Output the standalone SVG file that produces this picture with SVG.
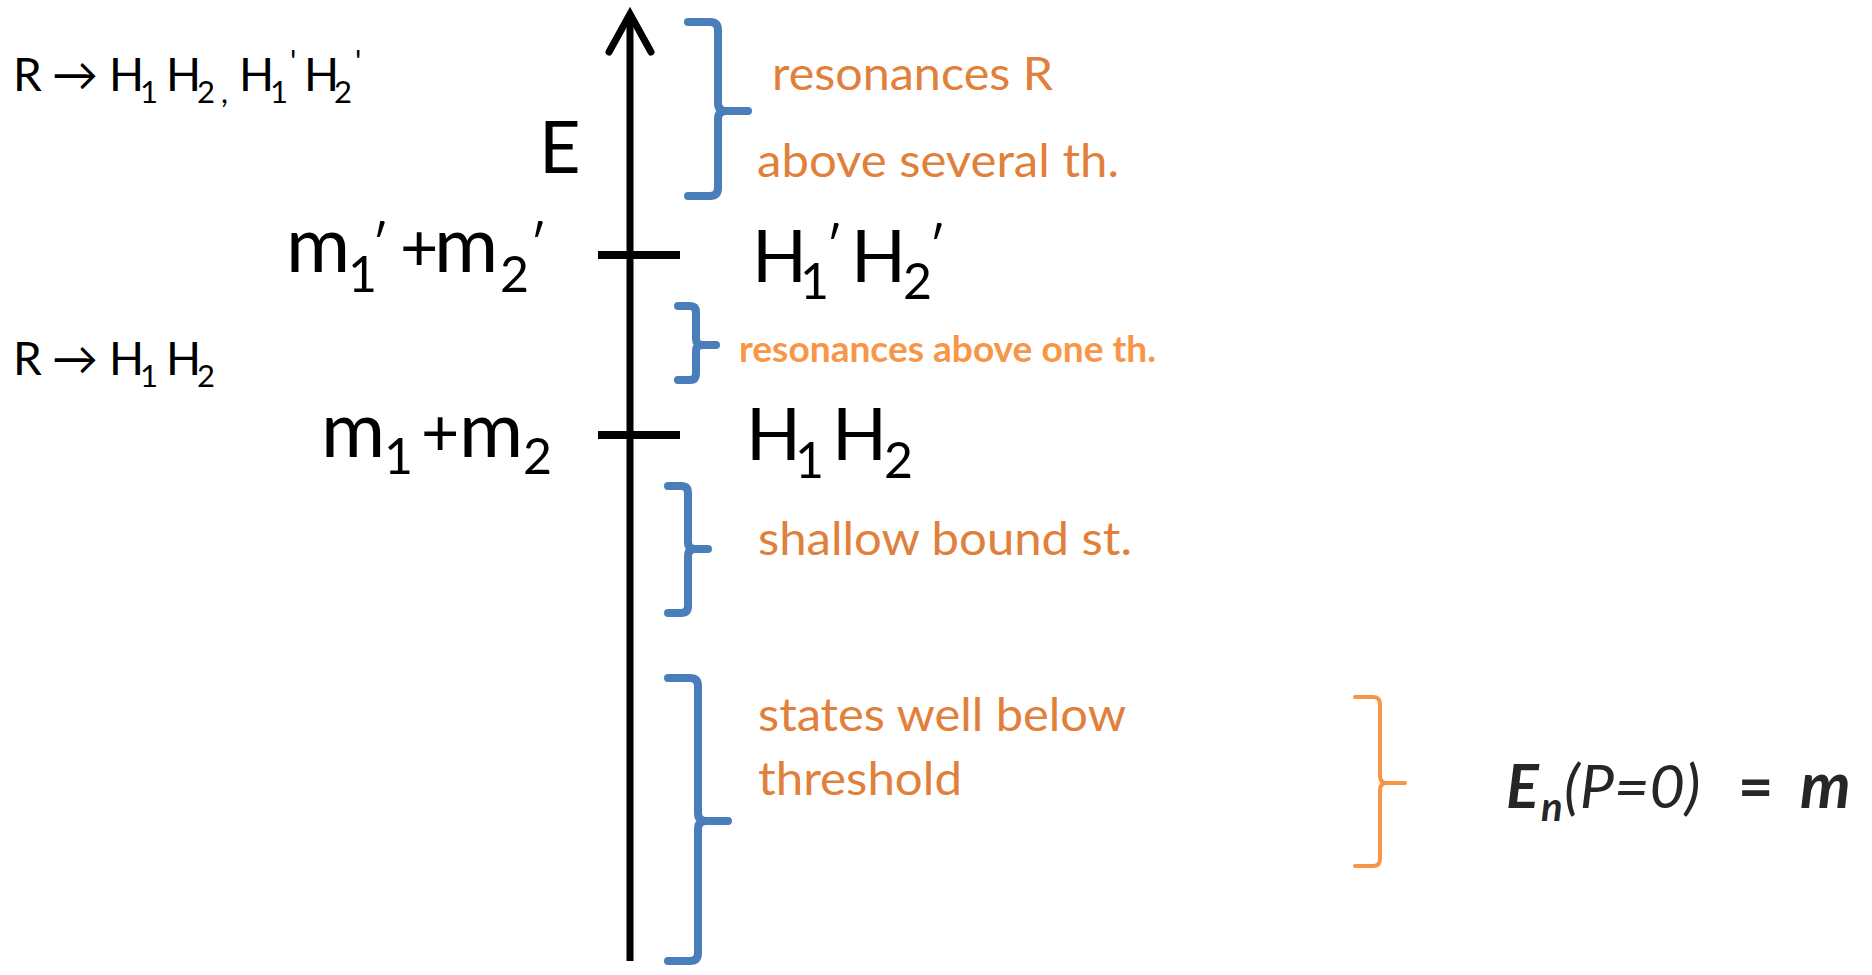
<svg xmlns="http://www.w3.org/2000/svg" width="1872" height="975" viewBox="0 0 1872 975">
<style>
.k{font-family:Lato,"Open Sans","Liberation Sans",sans-serif;fill:#000}
.f{font-size:46px}
.s{font-size:31px}
.big{font-size:72px}
.mm{font-size:78px}
.pl{font-size:66px}
.bs{font-size:50px}
.o{font-family:Lato,"Open Sans","Liberation Sans",sans-serif;fill:#E0803A;font-size:46px}
.ob{font-family:Lato,"Open Sans","Liberation Sans",sans-serif;fill:#F79646;font-weight:bold;font-size:36px}
.eq{font-family:Lato,"Open Sans","Liberation Sans",sans-serif;fill:#262626;font-size:61px;font-style:italic}
.b{font-weight:bold}
.br{fill:none;stroke:#4A7EBB;stroke-width:8;stroke-linecap:round;stroke-linejoin:round}
.bo{fill:none;stroke:#F79646;stroke-width:4;stroke-linecap:round;stroke-linejoin:round}
.ax{fill:none;stroke:#000;stroke-width:7}
.tk{fill:none;stroke:#000;stroke-width:8}
</style>
<g id="connectors">
<g id="energy-axis">
<line class="ax" x1="630" y1="961" x2="630" y2="14"/>
<polyline class="ax" points="609,52 630,14 651,52" stroke-width="8" stroke-linecap="round" stroke-linejoin="miter"/>
</g>
<line id="tick-upper" class="tk" x1="598" y1="255" x2="680" y2="255"/>
<line id="tick-lower" class="tk" x1="598" y1="435" x2="680" y2="435"/>
<path id="brace-1" class="br" d="M688,22 H710 Q718,22 718,30 V103 Q718,111 726,111 H748 M726,111 Q718,111 718,119 V188 Q718,196 710,196 H688"/>
<path id="brace-2" class="br" d="M678,306 H690 Q696,306 696,312 V339 Q696,345 702,345 H716 M702,345 Q696,345 696,351 V374 Q696,380 690,380 H678"/>
<path id="brace-3" class="br" d="M668,486 H681 Q688,486 688,493 V542 Q688,549 695,549 H708 M695,549 Q688,549 688,556 V606 Q688,613 681,613 H668"/>
<path id="brace-4" class="br" d="M668,678 H690 Q698,678 698,686 V813 Q698,821 706,821 H728 M706,821 Q698,821 698,829 V953 Q698,961 690,961 H668"/>
<path id="brace-orange" class="bo" d="M1355,697 H1373 Q1380,697 1380,704 V776 Q1380,783 1387,783 H1405 M1387,783 Q1380,783 1380,790 V859 Q1380,866 1373,866 H1355"/>
</g>
<g id="decay-two">
<text class="k f"><tspan x="13" y="91">R</tspan><tspan x="52" y="91">→</tspan><tspan x="109" y="91">H</tspan><tspan class="s" x="140" y="103">1</tspan><tspan x="166" y="91">H</tspan><tspan class="s" x="197" y="103">2</tspan><tspan class="s" x="221" y="103">,</tspan><tspan x="239" y="91">H</tspan><tspan class="s" x="270" y="103">1</tspan><tspan class="s" x="290" y="72">'</tspan><tspan x="304" y="91">H</tspan><tspan class="s" x="334" y="103">2</tspan><tspan class="s" x="355" y="72">'</tspan></text>
</g>
<g id="decay-one">
<text class="k f"><tspan x="13" y="375">R</tspan><tspan x="52" y="375">→</tspan><tspan x="109" y="375">H</tspan><tspan class="s" x="140" y="387">1</tspan><tspan x="166" y="375">H</tspan><tspan class="s" x="197" y="387">2</tspan></text>
</g>
<g id="axis-label">
<text class="k big" x="539" y="173">E</text>
</g>
<g id="threshold-upper">
<text class="k mm"><tspan x="286" y="272">m</tspan><tspan class="bs" x="348" y="292">1</tspan><tspan class="bs" x="372" y="262">′</tspan><tspan class="pl" x="400" y="271">+</tspan><tspan x="434" y="272">m</tspan><tspan class="bs" x="500" y="292">2</tspan><tspan class="bs" x="530" y="262">′</tspan></text>
<text class="k big"><tspan x="752" y="282">H</tspan><tspan class="bs" x="800" y="299">1</tspan><tspan class="bs" x="826" y="264">′</tspan><tspan x="851" y="282">H</tspan><tspan class="bs" x="903" y="299">2</tspan><tspan class="bs" x="929" y="264">′</tspan></text>
</g>
<g id="threshold-lower">
<text class="k mm"><tspan x="321" y="457">m</tspan><tspan class="bs" x="384" y="474">1</tspan><tspan class="pl" x="421" y="456">+</tspan><tspan x="459" y="457">m</tspan><tspan class="bs" x="523" y="474">2</tspan></text>
<text class="k big"><tspan x="746" y="460">H</tspan><tspan class="bs" x="795" y="478">1</tspan><tspan x="832" y="460">H</tspan><tspan class="bs" x="884" y="478">2</tspan></text>
</g>
<g id="label-resonances-several">
<text class="o" x="772" y="90" textLength="281" lengthAdjust="spacingAndGlyphs">resonances R</text>
<text class="o" x="757" y="177" textLength="362" lengthAdjust="spacingAndGlyphs">above several th.</text>
</g>
<g id="label-resonances-one">
<text class="ob" x="739" y="362" textLength="417" lengthAdjust="spacingAndGlyphs">resonances above one th.</text>
</g>
<g id="label-shallow">
<text class="o" x="758" y="555" textLength="374" lengthAdjust="spacingAndGlyphs">shallow bound st.</text>
</g>
<g id="label-deep">
<text class="o" x="758" y="731" textLength="368" lengthAdjust="spacingAndGlyphs">states well below</text>
<text class="o" x="758" y="795" textLength="204" lengthAdjust="spacingAndGlyphs">threshold</text>
</g>
<g id="mass-equation">
<text class="eq"><tspan class="b" x="1506" y="808">E</tspan><tspan class="b" x="1541" y="821" font-size="40">n</tspan><tspan x="1564" y="808">(P=0)</tspan><tspan class="b" x="1738" y="808" font-style="normal">=</tspan><tspan class="b" x="1800" y="808" font-size="64">m</tspan></text>
</g>
</svg>
